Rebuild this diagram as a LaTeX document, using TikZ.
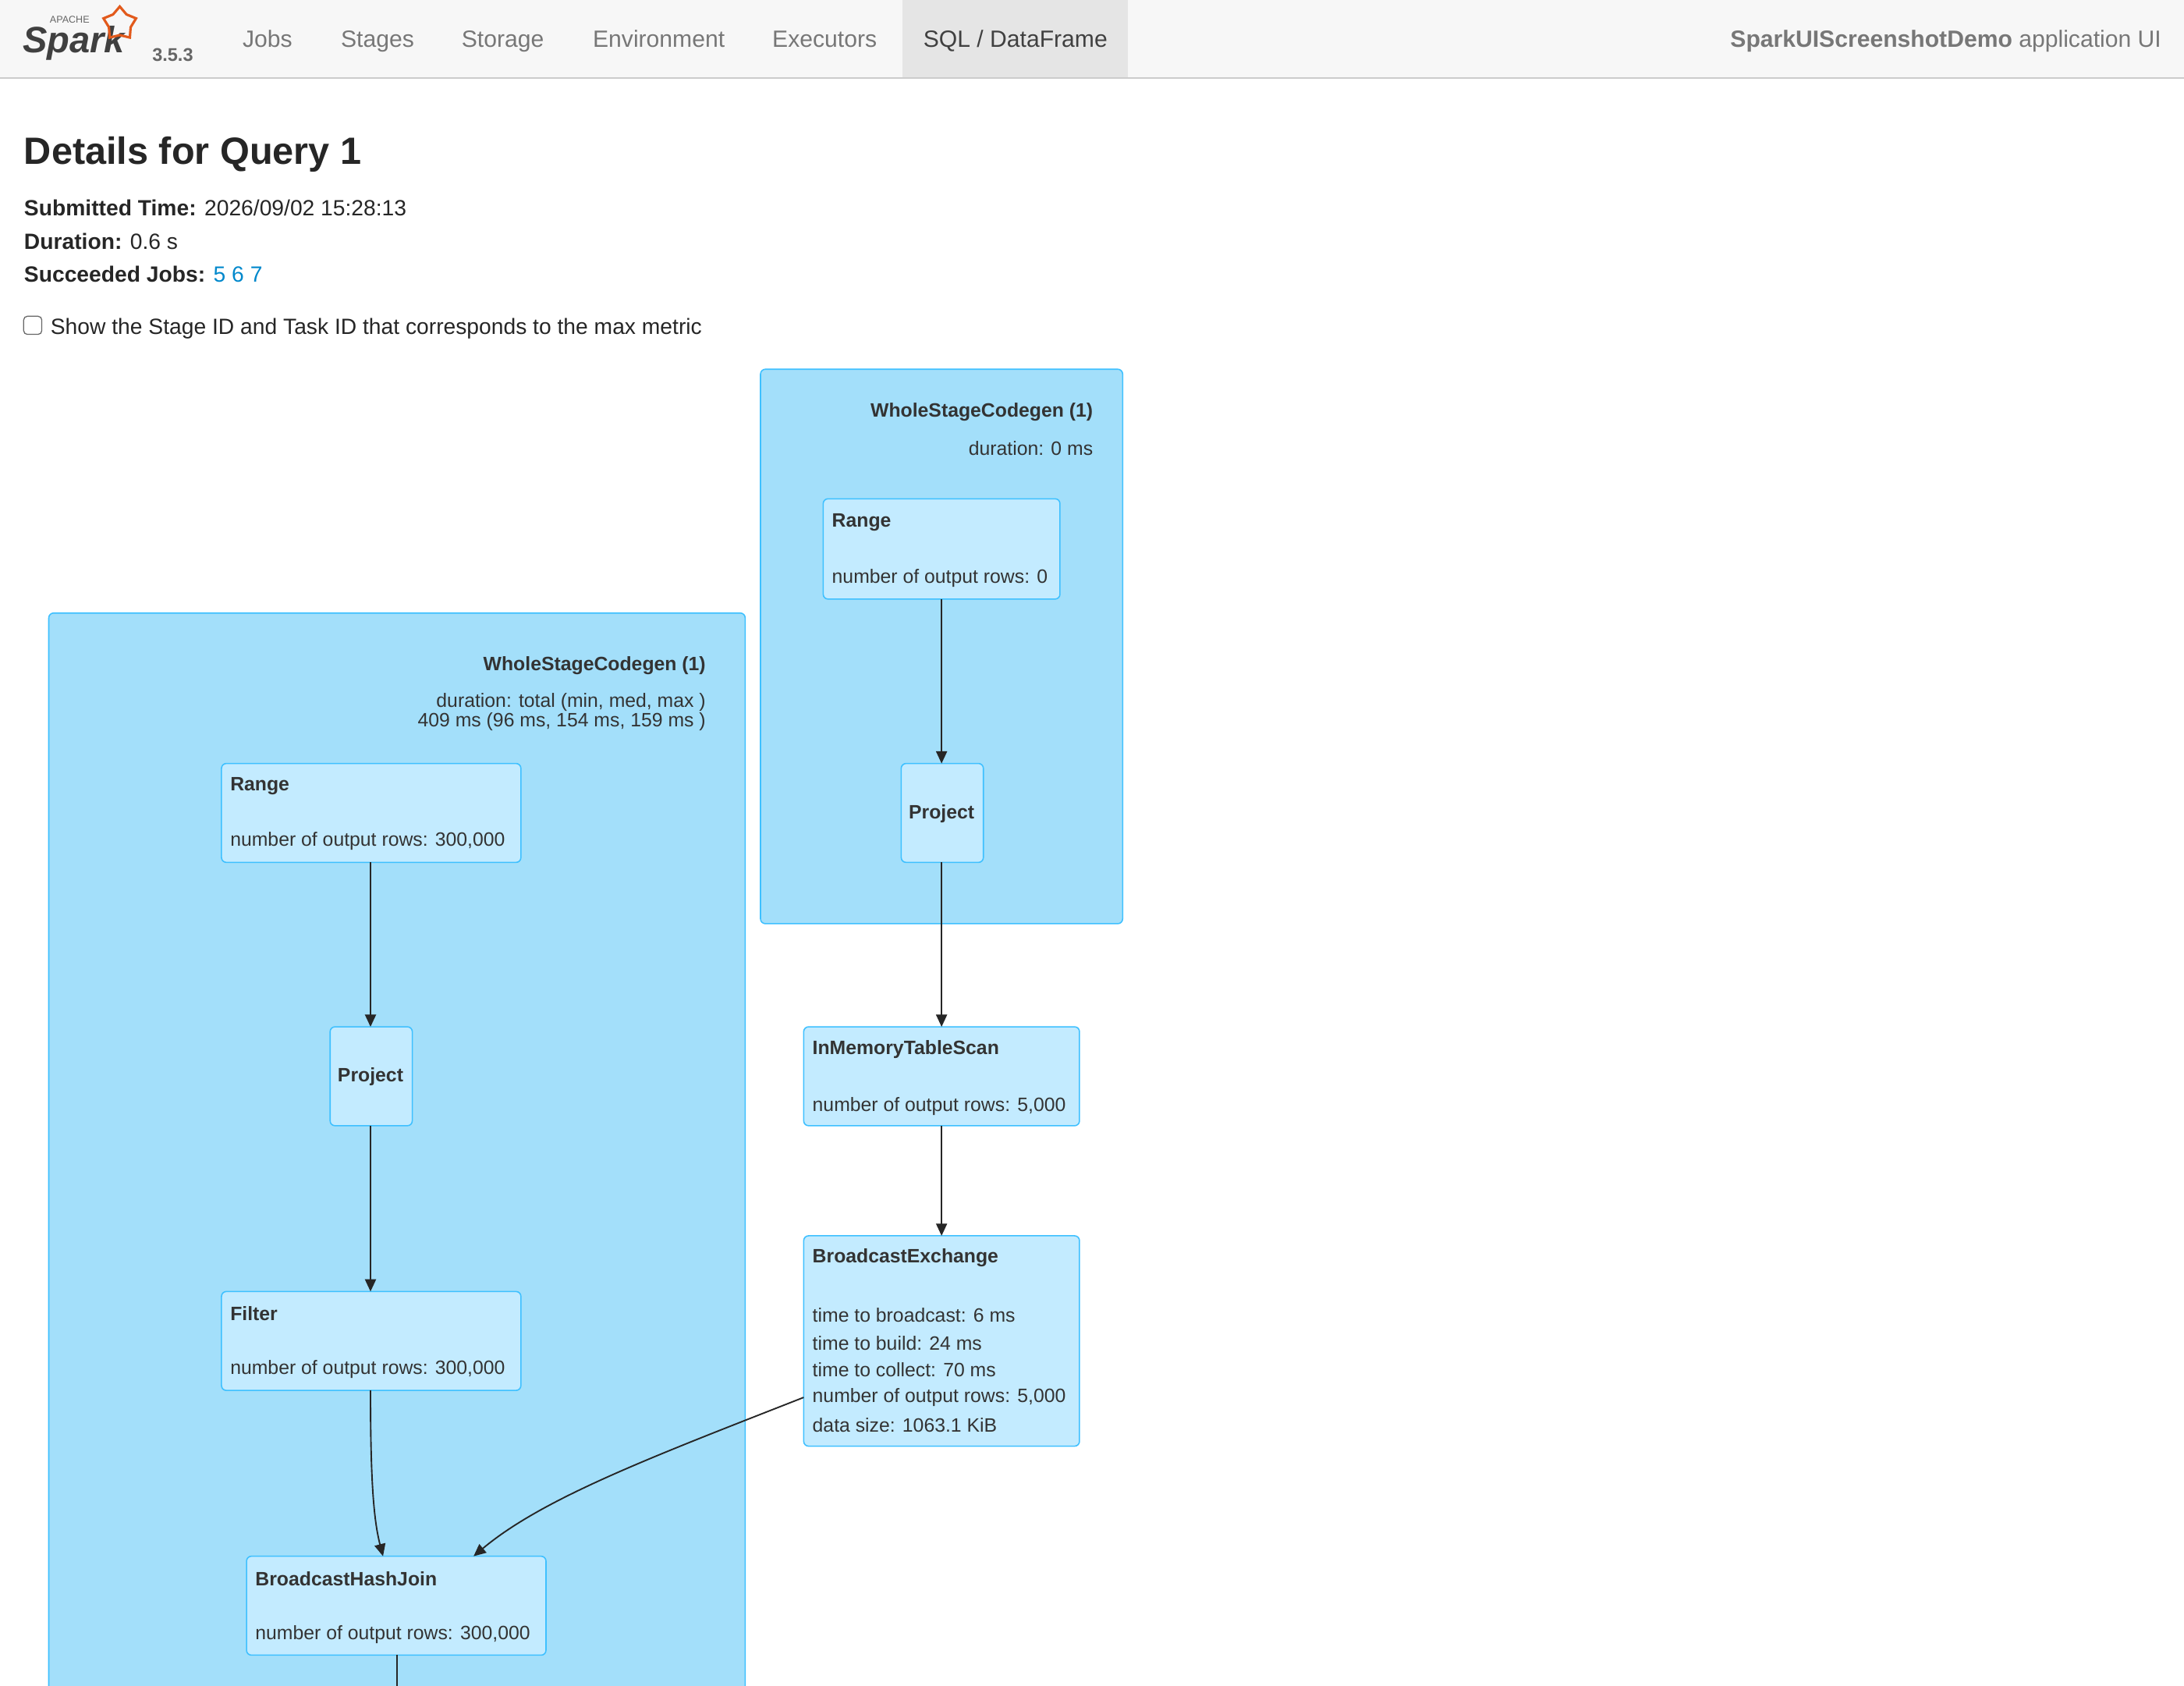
\documentclass[tikz,border=0pt]{standalone}
\usepackage{fontspec}
\setmainfont{Liberation Sans}
\usetikzlibrary{arrows.meta,shapes.geometric}
\definecolor{clfill}{HTML}{A3DFFA}
\definecolor{clline}{HTML}{3EC0FF}
\definecolor{ndfill}{HTML}{C3EBFF}
\definecolor{navbg}{HTML}{F7F7F7}
\definecolor{navact}{HTML}{E5E5E5}
\definecolor{navtxt}{HTML}{777777}
\definecolor{txt}{HTML}{333333}
\definecolor{lnk}{HTML}{0088CC}
\definecolor{sparkor}{HTML}{E25A1C}
\begin{document}
\begin{tikzpicture}[x=0.02cm,y=-0.02cm,
  cluster/.style={draw=clline,fill=clfill,rounded corners=2pt,line width=0.5pt},
  nd/.style={draw=clline,fill=ndfill,rounded corners=2pt,line width=0.5pt},
  ntxt/.style={anchor=west,inner sep=0,font=\fontsize{7.9}{9}\selectfont,text=txt},
  ctxt/.style={anchor=east,inner sep=0,font=\fontsize{7.9}{9}\selectfont,text=txt},
  nav/.style={inner sep=0,anchor=base,font=\fontsize{9.6}{11}\selectfont,text=navtxt},
  body/.style={anchor=west,inner sep=0,font=\fontsize{9}{11}\selectfont,text=black!85},
  edge/.style={-{Triangle[length=5pt,width=4.5pt]},line width=0.6pt,black!85}]
\useasboundingbox (0,0) rectangle (1568,1210);
\fill[white] (0,0) rectangle (1568,1210);
% navbar
\fill[navbg] (0,0) rectangle (1568,56);
\fill[navact] (648,0) rectangle (810,56);
\draw[black!20] (0,56) -- (1568,56);
\node[inner sep=0,font=\fontsize{15}{16}\itshape\bfseries,text=black!75] (logo) at (53,31) {Spark};
\node[inner sep=0,font=\fontsize{4}{4}\selectfont,text=black!60] (apache) at (50,14) {APACHE};
\node[star,star points=5,draw=sparkor,line width=1pt,minimum size=14pt,inner sep=0] (star) at (86,17) {};
\node[nav,font=\fontsize{7.5}{9}\bfseries\selectfont,text=black!60] (ver) at (124,44) {3.5.3};
\node[nav] (n1) at (192,34) {Jobs};
\node[nav] (n2) at (271,34) {Stages};
\node[nav] (n3) at (361,34) {Storage};
\node[nav] (n4) at (473,34) {Environment};
\node[nav] (n5) at (592,34) {Executors};
\node[nav,text=black!75] (n6) at (729,34) {SQL / DataFrame};
\node[nav,anchor=base east] (app) at (1552,34) {\textbf{SparkUIScreenshotDemo} application UI};
% header
\node[anchor=west,inner sep=0,font=\fontsize{15.5}{18}\bfseries\selectfont,text=black!85] (title) at (17,111) {Details for Query 1};
\node[body] (l1) at (17,149) {\textbf{Submitted Time:} 2026/09/02 15:28:13};
\node[body] (l2) at (17,173) {\textbf{Duration:} 0.6 s};
\node[body] (l3) at (17,197) {\textbf{Succeeded Jobs:} \textcolor{lnk}{5 6 7}};
\draw[black!60,rounded corners=1.5pt] (17,227) rectangle (30,240);
\node[body] (l4) at (36,236) {Show the Stage ID and Task ID that corresponds to the max metric};
% clusters
\draw[cluster] (546,265) rectangle (806,663);
\node[ctxt,font=\fontsize{7.9}{9}\bfseries\selectfont] (c1a) at (785,296) {WholeStageCodegen (1)};
\node[ctxt] (c1b) at (785,322) {duration: 0 ms};
\draw[cluster] (35,440) -- (35,1215) -- (535,1215) -- (535,440) -- cycle;
\node[ctxt,font=\fontsize{7.9}{9}\bfseries\selectfont] (c2a) at (507,478) {WholeStageCodegen (1)};
\node[ctxt] (c2b) at (507,504) {duration: total (min, med, max )};
\node[ctxt] (c2c) at (507,518) {409 ms (96 ms, 154 ms, 159 ms )};
% right nodes
\draw[nd] (591,358) rectangle (761,430);
\coordinate (r1t) at (676,358); \coordinate (r1b) at (676,430);
\node[ntxt,font=\fontsize{7.9}{9}\bfseries\selectfont] at (597,375) {Range};
\node[ntxt] at (597,415) {number of output rows: 0};
\draw[nd] (647,548) rectangle (706,619);
\coordinate (p1t) at (676,548); \coordinate (p1b) at (676,619);
\node[inner sep=0,font=\fontsize{7.9}{9}\bfseries\selectfont,text=txt] at (676,584) {Project};
\draw[nd] (577,737) rectangle (775,808);
\coordinate (imt) at (676,737); \coordinate (imb) at (676,808);
\node[ntxt,font=\fontsize{7.9}{9}\bfseries\selectfont] at (583,753) {InMemoryTableScan};
\node[ntxt] at (583,794) {number of output rows: 5,000};
\draw[nd] (577,887) rectangle (775,1038);
\coordinate (bet) at (676,887); \coordinate (bel) at (577,1003);
\node[ntxt,font=\fontsize{7.9}{9}\bfseries\selectfont] at (583,903) {BroadcastExchange};
\node[ntxt] at (583,944) {time to broadcast: 6 ms};
\node[ntxt] at (583,964) {time to build: 24 ms};
\node[ntxt] at (583,983) {time to collect: 70 ms};
\node[ntxt] at (583,1003) {number of output rows: 5,000};
\node[ntxt] at (583,1023) {data size: 1063.1 KiB};
% left nodes
\draw[nd] (159,548) rectangle (374,619);
\coordinate (r2b) at (266,619);
\node[ntxt,font=\fontsize{7.9}{9}\bfseries\selectfont] at (165,564) {Range};
\node[ntxt] at (165,604) {number of output rows: 300,000};
\draw[nd] (237,737) rectangle (296,808);
\coordinate (p2t) at (266,737); \coordinate (p2b) at (266,808);
\node[inner sep=0,font=\fontsize{7.9}{9}\bfseries\selectfont,text=txt] at (266,773) {Project};
\draw[nd] (159,927) rectangle (374,998);
\coordinate (ft) at (266,927); \coordinate (fb) at (266,998);
\node[ntxt,font=\fontsize{7.9}{9}\bfseries\selectfont] at (165,943) {Filter};
\node[ntxt] at (165,983) {number of output rows: 300,000};
\draw[nd] (177,1117) rectangle (392,1188);
\coordinate (bh1) at (275,1117); \coordinate (bh2) at (340,1117); \coordinate (bhb) at (285,1188); \coordinate (bot) at (285,1215);
\node[ntxt,font=\fontsize{7.9}{9}\bfseries\selectfont] at (183,1133) {BroadcastHashJoin};
\node[ntxt] at (183,1173) {number of output rows: 300,000};
% edges
\draw[edge] (r1b) -- (p1t);
\draw[edge] (p1b) -- (imt);
\draw[edge] (imb) -- (bet);
\draw[edge] (r2b) -- (p2t);
\draw[edge] (p2b) -- (ft);
\draw[edge] (fb) .. controls (266,1060) and (268,1090) .. (bh1);
\draw[edge] (bel) .. controls (470,1045) and (390,1075) .. (bh2);
\draw[line width=0.6pt,black!85] (bhb) -- (bot);
\end{tikzpicture}
\end{document}
